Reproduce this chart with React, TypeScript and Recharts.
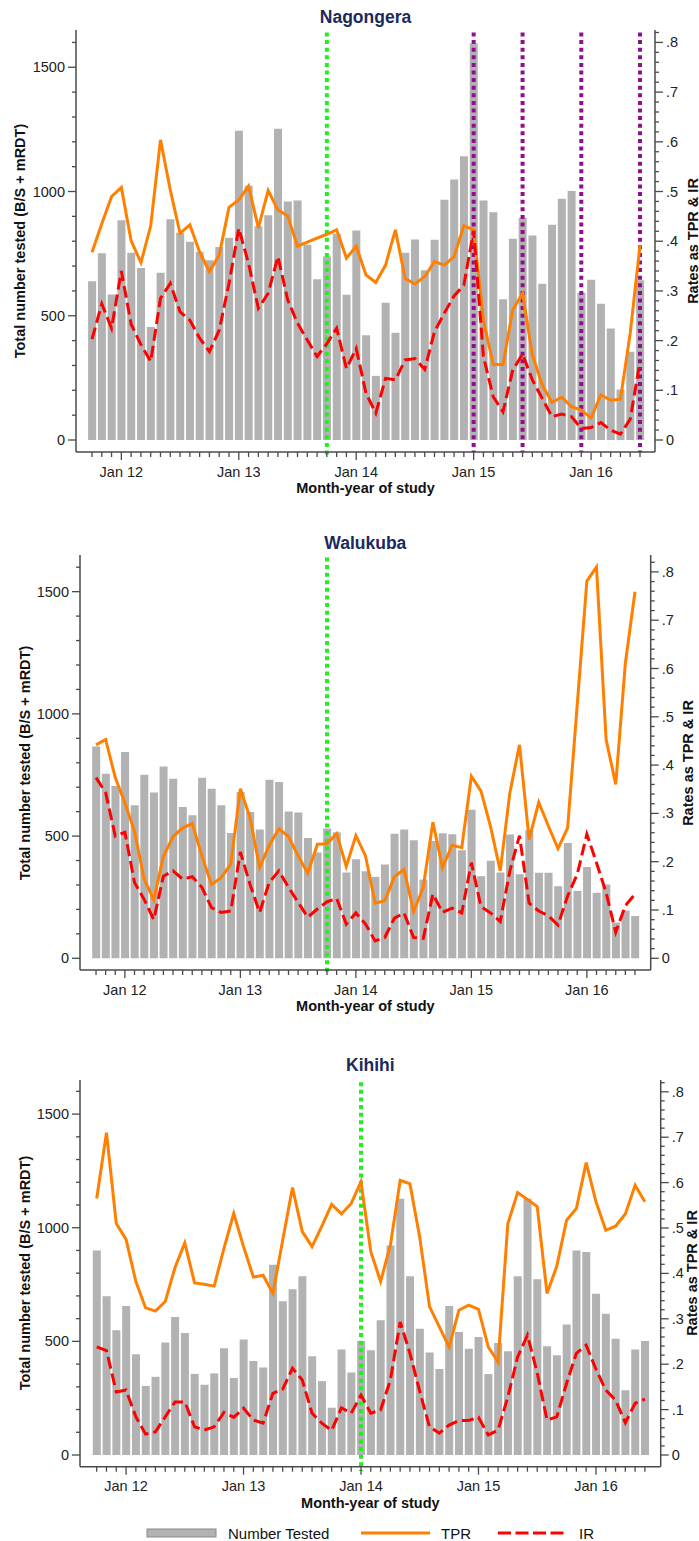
import { Bar, ComposedChart, Line, ReferenceLine, XAxis, YAxis } from "recharts";

const W = 699;
const FONT = "'Liberation Sans', Arial, sans-serif";
const AXIS = "#4a4a4a";
const NAVY = "#1b2a5c";
const GREY = "#b2b2b2";
const ORANGE = "#ff7f00";
const RED = "#ff0000";
const GREEN = "#22ee22";
const PURPLE = "#8f0f8f";

const months = [
  "Oct 11", "Nov 11", "Dec 11",
  "Jan 12", "Feb 12", "Mar 12", "Apr 12", "May 12", "Jun 12", "Jul 12", "Aug 12", "Sep 12", "Oct 12", "Nov 12", "Dec 12",
  "Jan 13", "Feb 13", "Mar 13", "Apr 13", "May 13", "Jun 13", "Jul 13", "Aug 13", "Sep 13", "Oct 13", "Nov 13", "Dec 13",
  "Jan 14", "Feb 14", "Mar 14", "Apr 14", "May 14", "Jun 14", "Jul 14", "Aug 14", "Sep 14", "Oct 14", "Nov 14", "Dec 14",
  "Jan 15", "Feb 15", "Mar 15", "Apr 15", "May 15", "Jun 15", "Jul 15", "Aug 15", "Sep 15", "Oct 15", "Nov 15", "Dec 15",
  "Jan 16", "Feb 16", "Mar 16", "Apr 16", "May 16", "Jun 16",
];

const countTicks = [0, 100, 200, 300, 400, 500, 600, 700, 800, 900, 1000, 1100, 1200, 1300, 1400, 1500, 1600];
const rateTicks = [
  0, 0.02, 0.04, 0.06, 0.08, 0.1, 0.12, 0.14, 0.16, 0.18, 0.2, 0.22, 0.24, 0.26, 0.28, 0.3,
  0.32, 0.34, 0.36, 0.38, 0.4, 0.42, 0.44, 0.46, 0.48, 0.5, 0.52, 0.54, 0.56, 0.58, 0.6,
  0.62, 0.64, 0.66, 0.68, 0.7, 0.72, 0.74, 0.76, 0.78, 0.8, 0.82,
];
const rateLabels = ["0", ".1", ".2", ".3", ".4", ".5", ".6", ".7", ".8"];

// Nagongera
const nagTested = [
  639, 752, 586, 884, 754, 692, 455, 673, 888, 834, 798, 758, 723, 777, 814, 1245, 1023, 860, 904, 1253,
  960, 964, 786, 647, 738, 830, 585, 843, 422, 258, 552, 432, 754, 807, 683, 806, 967, 1048, 1142, 1597,
  964, 917, 566, 810, 894, 823, 629, 866, 971, 1002, 593, 645, 548, 449, 203, 355, 643,
];
const nagTpr = [
  0.378, 0.435, 0.49, 0.508, 0.401, 0.357, 0.431, 0.604, 0.503, 0.416, 0.433, 0.378, 0.339, 0.372, 0.468,
  0.483, 0.511, 0.427, 0.502, 0.463, 0.451, 0.39, 0.398, 0.406, 0.414, 0.423, 0.366, 0.39, 0.332, 0.317,
  0.352, 0.423, 0.325, 0.314, 0.329, 0.359, 0.352, 0.369, 0.431, 0.423, 0.241, 0.152, 0.152, 0.262, 0.295,
  0.171, 0.111, 0.076, 0.086, 0.067, 0.06, 0.044, 0.091, 0.08, 0.082, 0.215, 0.392,
];
const nagIr = [
  0.203, 0.274, 0.225, 0.34, 0.233, 0.192, 0.158, 0.285, 0.315, 0.258, 0.241, 0.205, 0.178, 0.221, 0.315,
  0.426, 0.355, 0.265, 0.295, 0.369, 0.282, 0.235, 0.201, 0.168, 0.194, 0.225, 0.144, 0.184, 0.094, 0.054,
  0.124, 0.121, 0.161, 0.164, 0.142, 0.218, 0.255, 0.29, 0.312, 0.421, 0.168, 0.087, 0.057, 0.141, 0.173,
  0.121, 0.084, 0.047, 0.052, 0.047, 0.023, 0.025, 0.035, 0.02, 0.012, 0.042, 0.158,
];

// Walukuba
const walTested = [
  867, 755, 705, 844, 626, 751, 678, 785, 735, 619, 585, 739, 694, 626, 513, 680, 599, 527, 731, 721,
  601, 596, 492, 433, 531, 516, 351, 405, 356, 333, 384, 510, 527, 483, 322, 480, 512, 508, 442, 608,
  336, 399, 351, 506, 344, 524, 350, 350, 295, 472, 276, 374, 268, 302, 146, 195, 173,
];
const walTpr = [
  0.442, 0.453, 0.374, 0.322, 0.263, 0.164, 0.121, 0.211, 0.252, 0.27, 0.279, 0.212, 0.153, 0.167, 0.195,
  0.351, 0.291, 0.188, 0.234, 0.268, 0.252, 0.212, 0.176, 0.236, 0.237, 0.258, 0.19, 0.254, 0.212, 0.114,
  0.119, 0.169, 0.184, 0.097, 0.147, 0.282, 0.188, 0.234, 0.229, 0.377, 0.346, 0.272, 0.181, 0.343, 0.442,
  0.246, 0.323, 0.274, 0.227, 0.27, 0.525, 0.781, 0.81, 0.453, 0.36, 0.611, 0.759,
];
const walIr = [
  0.374, 0.343, 0.253, 0.261, 0.157, 0.122, 0.08, 0.17, 0.181, 0.164, 0.169, 0.147, 0.105, 0.095, 0.098,
  0.22, 0.153, 0.095, 0.157, 0.181, 0.147, 0.116, 0.085, 0.102, 0.117, 0.124, 0.071, 0.094, 0.071, 0.036,
  0.043, 0.083, 0.094, 0.043, 0.041, 0.133, 0.095, 0.104, 0.094, 0.198, 0.107, 0.094, 0.076, 0.181, 0.254,
  0.114, 0.098, 0.088, 0.069, 0.129, 0.174, 0.257, 0.198, 0.136, 0.054, 0.109, 0.133,
];

// Kihihi
const kihTested = [
  900, 698, 549, 656, 443, 304, 344, 495, 607, 537, 357, 309, 359, 470, 339, 508, 414, 385, 837, 676,
  729, 787, 435, 325, 208, 464, 363, 502, 461, 593, 922, 1127, 786, 555, 451, 378, 656, 541, 468, 519,
  356, 493, 457, 787, 1127, 773, 478, 439, 574, 900, 893, 710, 622, 512, 285, 464, 502,
];
const kihTpr = [
  0.565, 0.71, 0.51, 0.475, 0.382, 0.324, 0.317, 0.338, 0.413, 0.467, 0.379, 0.376, 0.372, 0.455, 0.532,
  0.459, 0.392, 0.396, 0.356, 0.473, 0.589, 0.492, 0.459, 0.504, 0.552, 0.531, 0.554, 0.602, 0.448, 0.382,
  0.462, 0.605, 0.597, 0.479, 0.327, 0.282, 0.238, 0.319, 0.33, 0.321, 0.238, 0.205, 0.51, 0.578, 0.563,
  0.547, 0.356, 0.416, 0.517, 0.543, 0.644, 0.558, 0.495, 0.504, 0.531, 0.594, 0.558,
];
const kihIr = [
  0.238, 0.23, 0.139, 0.143, 0.084, 0.046, 0.051, 0.084, 0.117, 0.117, 0.062, 0.055, 0.062, 0.094, 0.083,
  0.103, 0.077, 0.07, 0.136, 0.145, 0.191, 0.165, 0.092, 0.07, 0.054, 0.104, 0.092, 0.132, 0.092, 0.099,
  0.165, 0.293, 0.224, 0.14, 0.062, 0.048, 0.066, 0.076, 0.076, 0.083, 0.044, 0.055, 0.128, 0.216, 0.264,
  0.181, 0.077, 0.084, 0.158, 0.224, 0.242, 0.189, 0.143, 0.121, 0.071, 0.114, 0.123,
];

const panels = [
  {
    title: "Nagongera", tested: nagTested, tpr: nagTpr, ir: nagIr,
    green: ["Oct 13"], purple: ["Jan 15", "Jun 15", "Dec 15", "Jun 16"],
    top: 0, height: 500, marginTop: 30, leftW: 76, rightW: 44, xAxisH: 48,
    padL: 11.1, padR: 10.1, padB: 12, rateMax: 0.825,
    titleY: 17, leftTitleX: 20, rightTitleX: 692.5,
  },
  {
    title: "Walukuba", tested: walTested, tpr: walTpr, ir: walIr,
    green: ["Oct 13"], purple: [],
    top: 545, height: 475, marginTop: 10, leftW: 80, rightW: 48.3, xAxisH: 50,
    padL: 11.2, padR: 10.9, padB: 11.7, rateMax: 0.835,
    titleY: 543, leftTitleX: 25, rightTitleX: 687.5,
  },
  {
    title: "Kihihi", tested: kihTested, tpr: kihTpr, ir: kihIr,
    green: ["Jan 14"], purple: [],
    top: 1070, height: 450, marginTop: 10, leftW: 80, rightW: 38.3, xAxisH: 53.3,
    padL: 11.8, padR: 10.9, padB: 11.7, rateMax: 0.826,
    titleY: 1065, leftTitleX: 25, rightTitleX: 691.5,
  },
];

type PanelCfg = (typeof panels)[number];

const centered = (x: number, y: number, extra: React.CSSProperties = {}): React.CSSProperties => ({
  position: "absolute",
  left: x,
  top: y,
  transform: "translate(-50%, -50%)",
  whiteSpace: "nowrap",
  ...extra,
});

function Panel({ cfg }: { cfg: PanelCfg }) {
  const data = months.map((m, i) => ({ month: m, tested: cfg.tested[i], tpr: cfg.tpr[i], ir: cfg.ir[i] }));
  const axisY = cfg.height - cfg.xAxisH;
  const plotLeft = cfg.leftW;
  const plotRight = W - cfg.rightW;
  const midX = (plotLeft + plotRight) / 2;
  const midY = cfg.top + (cfg.marginTop + axisY) / 2;

  const xTick = (p: any) => {
    const label = String(p.payload.value);
    const major = label.startsWith("Jan");
    return (
      <g>
        <line x1={p.x} x2={p.x} y1={axisY} y2={axisY + (major ? 8 : 5)} stroke={AXIS} strokeWidth={1.3} />
        {major && (
          <text x={p.x} y={axisY + 19.5} dy="0.35em" textAnchor="middle" fontSize={14.5} fill="#222" fontFamily={FONT}>
            {label}
          </text>
        )}
      </g>
    );
  };

  const leftTick = (p: any) => {
    const v = p.payload.value;
    const major = v % 500 === 0;
    return (
      <g>
        <line x1={plotLeft - (major ? 8 : 4)} x2={plotLeft} y1={p.y} y2={p.y} stroke={AXIS} strokeWidth={1.3} />
        {major && (
          <text x={plotLeft - 11} y={p.y} dy="0.35em" textAnchor="end" fontSize={14.5} fill="#222" fontFamily={FONT}>
            {v}
          </text>
        )}
      </g>
    );
  };

  const rightTick = (p: any) => {
    const k = Math.round(p.payload.value * 50);
    const major = k % 5 === 0;
    return (
      <g>
        <line x1={plotRight} x2={plotRight + (major ? 8 : 4)} y1={p.y} y2={p.y} stroke={AXIS} strokeWidth={1.3} />
        {major && (
          <text x={plotRight + 11} y={p.y} dy="0.35em" textAnchor="start" fontSize={14.5} fill="#222" fontFamily={FONT}>
            {rateLabels[k / 5]}
          </text>
        )}
      </g>
    );
  };

  return (
    <>
      <div style={{ position: "absolute", left: 0, top: cfg.top, width: W, height: cfg.height }}>
        <ComposedChart
          width={W}
          height={cfg.height}
          data={data}
          margin={{ top: cfg.marginTop, right: 0, bottom: 0, left: 0 }}
        >
          <XAxis
            dataKey="month"
            type="category"
            interval={0}
            height={cfg.xAxisH}
            padding={{ left: cfg.padL, right: cfg.padR }}
            tickLine={false}
            axisLine={{ stroke: AXIS, strokeWidth: 1.5 }}
            tick={xTick}
          />
          <YAxis
            yAxisId="left"
            orientation="left"
            width={cfg.leftW}
            domain={[0, 1650]}
            ticks={countTicks}
            interval={0}
            padding={{ top: 0, bottom: cfg.padB }}
            tickLine={false}
            axisLine={{ stroke: AXIS, strokeWidth: 1.5 }}
            tick={leftTick}
          />
          <YAxis
            yAxisId="right"
            orientation="right"
            width={cfg.rightW}
            domain={[0, cfg.rateMax]}
            ticks={rateTicks}
            interval={0}
            padding={{ top: 0, bottom: cfg.padB }}
            tickLine={false}
            axisLine={{ stroke: AXIS, strokeWidth: 1.5 }}
            tick={rightTick}
          />
          <Bar yAxisId="left" dataKey="tested" fill={GREY} barSize={8} isAnimationActive={false} />
          {cfg.green.map((m) => (
            <ReferenceLine
              key={"g" + m}
              yAxisId="left"
              segment={[{ x: m, y: 1640 }, { x: m, y: -70 }]}
              stroke={GREEN}
              strokeWidth={4}
              strokeDasharray="4 3.6"
              ifOverflow="visible"
            />
          ))}
          {cfg.purple.map((m) => (
            <ReferenceLine
              key={"p" + m}
              yAxisId="left"
              segment={[{ x: m, y: 1640 }, { x: m, y: -48 }]}
              stroke={PURPLE}
              strokeWidth={4}
              strokeDasharray="4 3.6"
              ifOverflow="visible"
            />
          ))}
          <Line
            yAxisId="right"
            type="linear"
            dataKey="tpr"
            stroke={ORANGE}
            strokeWidth={3}
            dot={false}
            activeDot={false}
            isAnimationActive={false}
          />
          <Line
            yAxisId="right"
            type="linear"
            dataKey="ir"
            stroke={RED}
            strokeWidth={3}
            strokeDasharray="12 5"
            dot={false}
            activeDot={false}
            isAnimationActive={false}
          />
        </ComposedChart>
      </div>
      <div style={centered(midX, cfg.titleY, { fontSize: 17.5, fontWeight: 700, color: NAVY })}>{cfg.title}</div>
      <div style={centered(midX, cfg.top + axisY + 36, { fontSize: 14.5, fontWeight: 700, color: "#111" })}>
        Month-year of study
      </div>
      <div
        style={{
          ...centered(cfg.leftTitleX, midY, { fontSize: 14.5, fontWeight: 700, color: "#111" }),
          transform: "translate(-50%, -50%) rotate(-90deg)",
        }}
      >
        Total number tested (B/S + mRDT)
      </div>
      <div
        style={{
          ...centered(cfg.rightTitleX, midY, { fontSize: 14.5, fontWeight: 700, color: "#111" }),
          transform: "translate(-50%, -50%) rotate(-90deg)",
        }}
      >
        Rates as TPR &amp; IR
      </div>
    </>
  );
}

function LegendRow() {
  const y = 1533;
  return (
    <>
      <svg style={{ position: "absolute", left: 0, top: y - 10, width: W, height: 20 }}>
        <rect x={147} y={6} width={69} height={8} fill={GREY} stroke="#8a8a8a" strokeWidth={1} />
        <line x1={361} x2={430} y1={10} y2={10} stroke={ORANGE} strokeWidth={3} />
        <line x1={498} x2={568} y1={10} y2={10} stroke={RED} strokeWidth={3} strokeDasharray="13 4.5" />
      </svg>
      <div style={{ position: "absolute", left: 228, top: y, transform: "translateY(-50%)", fontSize: 15, color: "#111" }}>
        Number Tested
      </div>
      <div style={{ position: "absolute", left: 441, top: y, transform: "translateY(-50%)", fontSize: 15, color: "#111" }}>
        TPR
      </div>
      <div style={{ position: "absolute", left: 579, top: y, transform: "translateY(-50%)", fontSize: 15, color: "#111" }}>
        IR
      </div>
    </>
  );
}

export default function App() {
  return (
    <div
      style={{
        position: "absolute",
        left: 0,
        top: 0,
        width: W,
        height: 1541,
        overflow: "hidden",
        background: "#fff",
        fontFamily: FONT,
      }}
    >
      {panels.map((cfg) => (
        <Panel key={cfg.title} cfg={cfg} />
      ))}
      <LegendRow />
    </div>
  );
}
